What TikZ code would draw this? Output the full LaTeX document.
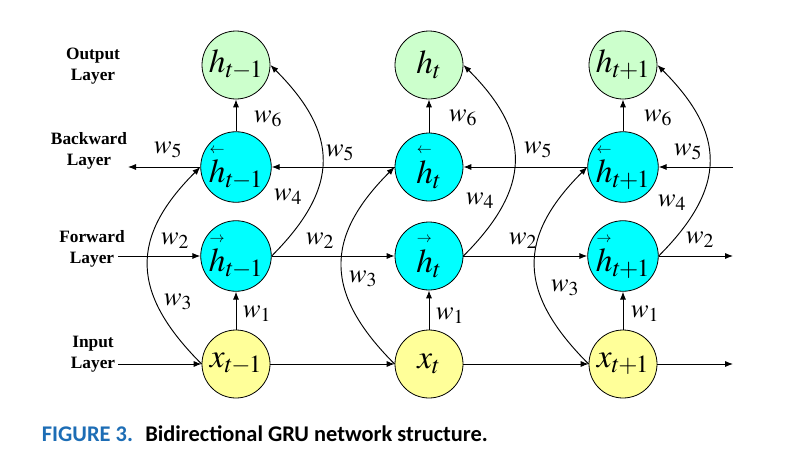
\documentclass[tikz,border=0pt]{standalone}
\usepackage{amsmath}
\usepackage{mathptmx}
\usepackage{fontspec}
\setmainfont{Liberation Serif}
\newfontfamily\capfont{Carlito}
\usetikzlibrary{arrows.meta,positioning}
\definecolor{verde}{HTML}{CCFFCC}
\definecolor{cian}{HTML}{00FFFF}
\definecolor{amarillo}{HTML}{FFFF99}
\definecolor{azul}{HTML}{1D6DB5}
\newcommand{\fwd}[1]{\overset{\scalebox{0.75}{$\scriptscriptstyle\rightarrow$}}{h}_{#1}}
\newcommand{\bwd}[1]{\overset{\scalebox{0.75}{$\scriptscriptstyle\leftarrow$}}{h}_{#1}}

\begin{document}
\begin{tikzpicture}[x=0.75pt,y=-0.75pt,>={Latex[length=6pt,width=4.6pt]},line width=0.7pt,
  n/.style={circle,draw,line width=0.6pt,minimum size=51pt,inner sep=0pt,font=\fontsize{25}{25}\selectfont},
  w/.style={font=\fontsize{20}{20}\selectfont},
  capa/.style={align=center,font=\bfseries\fontsize{13}{15.5}\selectfont}]
\useasboundingbox (0,0) rectangle (790,475);
% neuronas
\foreach \i/\x/\s in {1/236/{t\mkern-1mu-\mkern-1mu1},2/429/t,3/623/{t\mkern-1mu+\mkern-1mu1}}{
  \node[n,fill=verde] (o\i) at (\x,65) {$h_{\s}$};
  \node[n,fill=cian] (b\i) at (\x,167) {$\bwd{\s}$};
  \node[n,fill=cian] (f\i) at (\x,256) {$\fwd{\s}$};
  \node[n,fill=amarillo] (x\i) at (\x,364) {$x_{\s}$};
}
% capas
\node[capa] (lo) at (93,66) {Output\\Layer};
\node[capa] (lb) at (89,151) {Backward\\Layer};
\node[capa] (lf) at (92,249) {Forward\\Layer};
\node[capa] (li) at (93,354) {Input\\Layer};
\coordinate (bl) at (128,167); \coordinate (br) at (733,167);
\coordinate (fl) at (118,256); \coordinate (fr) at (733,256);
\coordinate (xl) at (118,364); \coordinate (xr) at (733,364);
% conexiones
\draw[->] (b1) -- (bl); \draw[->] (b2) -- (b1);
\draw[->] (b3) -- (b2); \draw[->] (br) -- (b3);
\draw[->] (fl) -- (f1); \draw[->] (f1) -- (f2);
\draw[->] (f2) -- (f3); \draw[->] (f3) -- (fr);
\draw[->] (xl) -- (x1); \draw[->] (x1) -- (x2);
\draw[->] (x2) -- (x3); \draw[->] (x3) -- (xr);
\foreach \i in {1,2,3}{
  \draw[->] (x\i) -- (f\i);
  \draw[->] (b\i) -- (o\i);
  \draw[->] (x\i.west) to[out=135,in=225,looseness=1.3] (b\i.west);
  \draw[->] (f\i.east) to[out=45,in=-45,looseness=1.3] (o\i.east);
}
% pesos
\foreach \a/\b/\k in {168/150/5,340/153/5,538/150/5,688/152/5,
  175/241/2,320/241/2,523/241/2,700/240/2,
  268/119/6,463/118/6,658/118/6,
  257/314/1,450/316/1,645/314/1,
  288/197/4,480/201/4,672/203/4,
  178/302/3,363/279/3,565/288/3}
  \node[w] (w\k-\a) at (\a,\b) {$w_\k$};
% pie
\node[anchor=west,font=\capfont\bfseries\fontsize{16.8}{20}\selectfont] (cap) at (37,434)
  {\textcolor{azul}{FIGURE 3.}\hspace{0.55em}Bidirectional GRU network structure.};
\end{tikzpicture}
\end{document}
